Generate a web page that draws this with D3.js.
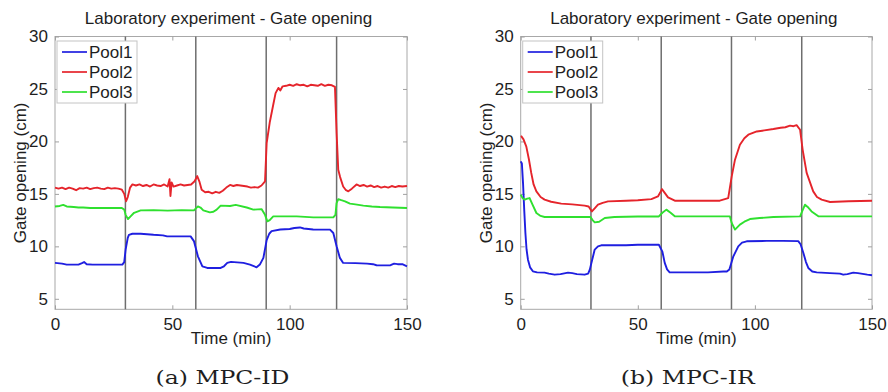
<!DOCTYPE html>
<html>
<head>
<meta charset="utf-8">
<script src="https://cdn.jsdelivr.net/npm/d3@7"></script>
<style>
  html, body { margin: 0; padding: 0; background: #fff; }
  svg { display: block; }
  text { font-family: "Liberation Sans", Arial, sans-serif; fill: #1e1e1e; }
</style>
</head>
<body>
<svg id="chart" width="888" height="392"></svg>
<script>
// Gate openings of the three pools during the laboratory run (time in min, opening in cm)
const chartTitle = "Laboratory experiment - Gate opening";
const xLabel = "Time (min)";
const yLabel = "Gate opening (cm)";
const seriesNames = ["Pool1", "Pool2", "Pool3"];
const captions = ["(a) MPC-ID", "(b) MPC-IR"];
const timeTicks = [0, 50, 100, 150];
const openingTicks = [5, 10, 15, 20, 25, 30];
const setpointChanges = [30, 60, 90, 120];
const timeDomain = [0, 150];
const openingDomain = [4, 30];

// MPC-ID controller
const idPool1 = [[0,8.42],[3,8.35],[5,8.26],[10,8.26],[11.5,8.4],[12.4,8.5],[13.5,8.3],[16,8.26],[22,8.26],[28.7,8.26],[29.5,8.5],[30.1,9.7],[31,10.8],[31.5,11.1],[33,11.2],[36.5,11.2],[42,11.1],[46,11.05],[47.8,10.95],[54,10.95],[57.8,10.95],[59.2,10.5],[60.9,9.05],[62.8,8.1],[64.9,7.94],[70.6,7.94],[72,8.1],[73.4,8.42],[75,8.52],[80.3,8.42],[83.1,8.26],[85.9,8.0],[87.3,8.26],[88.8,8.9],[90.2,10.6],[91.3,11.2],[92.3,11.45],[96,11.6],[100,11.65],[102,11.75],[104.4,11.8],[106,11.7],[110,11.6],[117.2,11.59],[118.6,11.27],[120,10.0],[121.4,8.9],[122.8,8.42],[128,8.4],[133,8.35],[135.5,8.3],[137,8.2],[140,8.19],[143,8.2],[144.5,8.35],[146,8.3],[148,8.3],[150,8.1]];
const idPool2 = [[0,15.6],[1.5,15.5],[3,15.6],[4.5,15.45],[6,15.6],[7.5,15.5],[9,15.35],[10.5,15.55],[12,15.5],[13.5,15.6],[15,15.45],[16.5,15.55],[18,15.6],[19.5,15.5],[21,15.45],[22.5,15.6],[24,15.5],[25.5,15.55],[27,15.5],[28.5,15.4],[29.5,15.0],[30.3,14.3],[31,14.7],[32,15.6],[33,15.9],[34.5,15.8],[36,15.9],[37.5,15.75],[39,15.85],[40.5,15.7],[42,15.9],[43.5,15.8],[45,15.75],[46.5,15.9],[48,15.7],[48.8,16.4],[49.2,14.8],[49.7,16.1],[50.5,15.7],[52,15.8],[53.5,15.9],[55,15.8],[56.5,15.85],[58,15.9],[59.5,16.2],[60.6,16.7],[61.5,16.2],[62.5,15.4],[64,15.15],[65.5,15.2],[67,15.05],[68.5,15.2],[70,15.1],[71.5,15.3],[73,15.6],[74.6,15.85],[76,15.75],[77.5,15.85],[79,15.8],[80.5,15.75],[82,15.7],[83.5,15.6],[85,15.65],[86.5,15.6],[88,15.8],[89.5,16.2],[90.2,19.85],[91.5,21.8],[93,23.5],[94,24.6],[95.2,25.1],[96,24.85],[97,25.25],[98.5,25.3],[100,25.4],[101.5,25.3],[103,25.45],[104.5,25.35],[106,25.4],[107.5,25.25],[109,25.4],[110.5,25.35],[112,25.3],[113.5,25.45],[115,25.3],[116.5,25.4],[118,25.35],[119.3,25.2],[120,20.8],[120.7,17.3],[121.5,16.6],[122.8,15.7],[124,15.35],[125,15.25],[126.5,15.5],[128.5,15.9],[130,15.75],[131.5,15.85],[133,15.7],[134.5,15.8],[136,15.65],[137.5,15.75],[139,15.6],[140.5,15.7],[142,15.6],[143.5,15.75],[145,15.65],[146.5,15.75],[148,15.7],[150,15.75]];
const idPool3 = [[0,13.8],[2,13.85],[3.5,13.95],[5,13.8],[8,13.75],[10,13.7],[12,13.7],[15,13.65],[20,13.65],[25,13.65],[28.5,13.65],[29.5,13.5],[30.1,13.0],[31.1,12.6],[32.2,12.85],[33.7,13.2],[36.5,13.43],[42,13.45],[48,13.4],[54,13.45],[59.2,13.43],[60.9,13.81],[62,13.7],[63.2,13.43],[66,13.24],[67.5,13.3],[68.9,13.5],[70.6,13.88],[74.6,13.85],[77,13.95],[81.7,13.7],[84.5,13.5],[88,13.55],[89.5,13.0],[90.5,12.38],[91.5,12.5],[93,12.86],[103,12.86],[110.1,12.76],[118.6,12.76],[119.5,13.0],[120,14.13],[120.7,14.5],[122,14.4],[123.6,14.29],[125.7,14.07],[128,14.0],[131.4,13.88],[135,13.8],[138.5,13.75],[144,13.7],[150,13.66]];

// MPC-IR controller
const irPool1 = [[0,18.1],[0.5,17.9],[1,16.0],[1.5,13.5],[2,11.3],[2.5,9.7],[3.1,8.73],[4,8.0],[5.2,7.62],[7,7.52],[10.2,7.5],[12,7.4],[14.5,7.3],[17,7.35],[20.2,7.5],[22,7.45],[24,7.35],[27.3,7.3],[28.8,7.4],[29.5,7.78],[30.5,8.7],[31.6,9.69],[33,10.0],[34.4,10.1],[40,10.1],[45,10.1],[50,10.15],[55,10.15],[59,10.15],[60.5,9.5],[61.5,8.42],[62.5,7.8],[63.6,7.52],[70,7.52],[80,7.52],[86.5,7.6],[88,7.6],[89.1,7.8],[90.8,9.05],[92.9,10.0],[94.5,10.35],[96.5,10.48],[105,10.52],[112,10.52],[118.5,10.5],[119.5,10.2],[120.7,9.37],[121.8,8.5],[122.8,7.94],[124.5,7.6],[126.4,7.52],[132,7.45],[136.3,7.4],[137.7,7.3],[139.5,7.35],[142,7.5],[144,7.45],[146,7.38],[148,7.3],[150,7.25]];
const irPool2 = [[0,20.5],[0.3,20.48],[1.2,20.2],[2.4,19.5],[3.5,18.3],[4.5,17.0],[5.5,15.9],[6.7,15.24],[8.5,14.7],[10.2,14.45],[13,14.25],[17.3,14.07],[22,14.0],[27.3,13.88],[29,13.8],[30.4,13.33],[31.5,13.6],[33,13.97],[35,14.15],[37.3,14.29],[45,14.35],[50,14.4],[55.8,14.5],[58.6,14.76],[59.5,15.1],[60.3,15.46],[61.5,15.1],[62.9,14.67],[65.8,14.35],[75.7,14.35],[85,14.35],[88.6,14.6],[90.1,16.67],[91.5,18.26],[93.6,19.69],[95.5,20.3],[97.2,20.64],[100.8,20.95],[104,21.05],[107.9,21.18],[111,21.3],[113,21.35],[115,21.5],[116.5,21.45],[117.8,21.55],[119.3,21.11],[120.4,19.2],[122.1,17.0],[124.9,15.24],[126.5,14.7],[128.5,14.45],[132.1,14.23],[140,14.3],[150,14.35]];
const irPool3 = [[0,14.93],[0.8,14.6],[1.7,14.45],[2.8,14.55],[3.8,14.6],[5,14.0],[6.7,13.18],[8.5,12.9],[10.2,12.8],[20,12.8],[29.8,12.8],[30.7,12.5],[31.6,12.29],[33.5,12.35],[35.9,12.7],[40,12.8],[50,12.85],[59,12.85],[60.5,13.2],[62.2,13.5],[64,13.2],[65.8,12.86],[75,12.86],[89.3,12.86],[90.1,12.23],[91.5,11.6],[93.6,12.07],[95.5,12.35],[97.9,12.6],[102,12.7],[107.9,12.8],[119.3,12.86],[120.3,13.4],[121.4,13.97],[122.8,13.7],[124.2,13.33],[127.1,12.86],[150,12.86]];

const poolColors = ["#1f1fe0", "#e5242b", "#2fe02f"];

const panels = [
  { series: [idPool1, idPool2, idPool3], caption: captions[0], left: 55, right: 407 },
  { series: [irPool1, irPool2, irPool3], caption: captions[1], left: 520.7, right: 872 }
];

const svg = d3.select("#chart");
const plotTop = 36.5, plotBottom = 309.3;

panels.forEach(p => {
  const g = svg.append("g");
  const x = d3.scaleLinear().domain(timeDomain).range([p.left, p.right]);
  const y = d3.scaleLinear().domain(openingDomain).range([plotBottom, plotTop]);
  const midX = (p.left + p.right) / 2;

  // axes box
  g.append("rect")
    .attr("x", p.left).attr("y", plotTop)
    .attr("width", p.right - p.left).attr("height", plotBottom - plotTop)
    .attr("fill", "#fff").attr("stroke", "#a8a8a8").attr("stroke-width", 1);

  // inward ticks on all four sides
  const tickLen = 4;
  const axisStyle = sel => {
    sel.select(".domain").remove();
    sel.selectAll(".tick line").attr("stroke", "#a0a0a0");
    sel.selectAll(".tick text").style("font-size", "17px")
      .style("font-family", '"Liberation Sans", Arial, sans-serif').attr("fill", "#1e1e1e");
  };
  g.append("g").attr("transform", `translate(0,${plotBottom})`)
    .call(d3.axisBottom(x).tickValues(timeTicks).tickSizeInner(-tickLen).tickSizeOuter(0).tickPadding(9).tickFormat(d3.format("d")))
    .call(axisStyle);
  g.append("g").attr("transform", `translate(0,${plotTop})`)
    .call(d3.axisTop(x).tickValues(timeTicks).tickSizeInner(-tickLen).tickSizeOuter(0).tickFormat(""))
    .call(axisStyle);
  g.append("g").attr("transform", `translate(${p.left},0)`)
    .call(d3.axisLeft(y).tickValues(openingTicks).tickSizeInner(-tickLen).tickSizeOuter(0).tickPadding(7).tickFormat(d3.format("d")))
    .call(axisStyle);
  g.append("g").attr("transform", `translate(${p.right},0)`)
    .call(d3.axisRight(y).tickValues(openingTicks).tickSizeInner(-tickLen).tickSizeOuter(0).tickFormat(""))
    .call(axisStyle);

  // set-point change markers
  g.selectAll("line.change").data(setpointChanges).enter().append("line")
    .attr("class", "change")
    .attr("x1", d => x(d)).attr("x2", d => x(d))
    .attr("y1", plotTop).attr("y2", plotBottom)
    .attr("stroke", "#6e6e6e").attr("stroke-width", 1.5);

  // gate opening traces
  const line = d3.line().x(d => x(d[0])).y(d => y(d[1]));
  p.series.forEach((s, i) => {
    g.append("path").datum(s)
      .attr("d", line)
      .attr("fill", "none")
      .attr("stroke", poolColors[i])
      .attr("stroke-width", 1.9)
      .attr("stroke-linejoin", "round");
  });

  // legend
  const lg = g.append("g").attr("transform", `translate(${p.left + 2},41)`);
  lg.append("rect").attr("width", 80).attr("height", 62)
    .attr("fill", "#fff").attr("stroke", "#c4c4c4").attr("stroke-width", 1);
  seriesNames.forEach((name, i) => {
    const ly = 11 + i * 20;
    lg.append("line").attr("x1", 5).attr("x2", 30).attr("y1", ly).attr("y2", ly)
      .attr("stroke", poolColors[i]).attr("stroke-width", 1.7);
    lg.append("text").attr("x", 32).attr("y", ly + 6).style("font-size", "17px").text(name);
  });

  // title and axis labels
  g.append("text").attr("x", midX - 2.5).attr("y", 24).attr("text-anchor", "middle")
    .style("font-size", "17px").text(chartTitle);
  g.append("text").attr("x", midX).attr("y", 344).attr("text-anchor", "middle")
    .style("font-size", "17px").text(xLabel);
  g.append("text")
    .attr("transform", `translate(${p.left - 29},${(plotTop + plotBottom) / 2}) rotate(-90)`)
    .attr("text-anchor", "middle").style("font-size", "17px").text(yLabel);

  // sub-figure caption
  g.append("text").attr("x", midX - 8.5).attr("y", 384).attr("text-anchor", "middle")
    .style("font-family", '"DejaVu Serif", "Liberation Serif", serif')
    .style("font-size", "19px")
    .attr("textLength", 134).attr("lengthAdjust", "spacingAndGlyphs")
    .text(p.caption);
});
</script>
</body>
</html>
